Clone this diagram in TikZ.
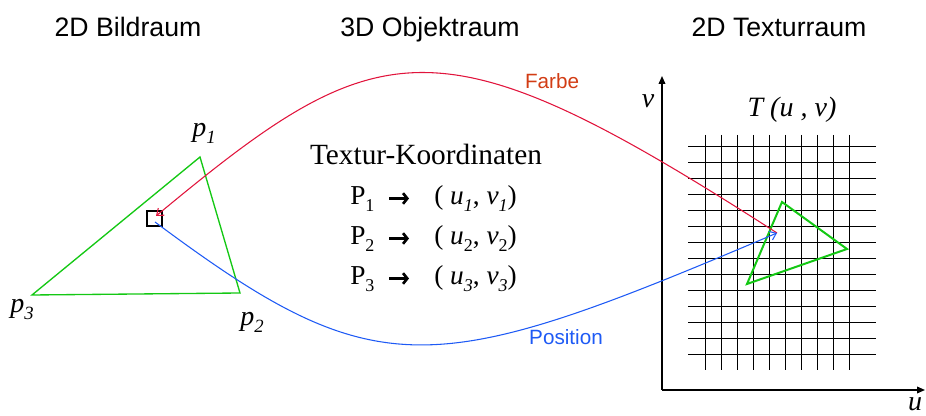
\documentclass[tikz,border=0pt]{standalone}
\usepackage{fontspec}
\setmainfont{Liberation Serif}
\setsansfont{Liberation Sans}
\usetikzlibrary{arrows.meta}
\definecolor{trigreen}{RGB}{20,200,20}
\definecolor{curvered}{RGB}{225,20,60}
\definecolor{labelred}{RGB}{210,60,20}
\definecolor{curveblue}{RGB}{30,90,245}
\newcommand\lsub[2]{\raisebox{-0.25em}{\fontsize{#1}{#1}\selectfont #2}}
\begin{document}
\begin{tikzpicture}[x=0.75pt,y=-0.75pt,
  header/.style={font=\sffamily\fontsize{20}{24}\selectfont, anchor=base},
  curvelabel/.style={font=\sffamily\fontsize{15.5}{18}\selectfont, anchor=base},
  plabel/.style={font=\fontsize{21}{25}\selectfont\itshape, anchor=base},
  midtext/.style={font=\fontsize{22}{26}\selectfont, anchor=base},
  rowtext/.style={font=\fontsize{20.5}{24}\selectfont, anchor=base west, inner sep=0pt},
  rowarrow/.style={line width=2pt, black, -{Straight Barb[length=3.2pt,width=8pt,line width=2pt]}},
  gridline/.style={line width=1.1pt, black},
  axis/.style={line width=1.1pt, black, -{Triangle[length=6pt,width=5pt]}},
  tri/.style={draw=trigreen, line width=1pt, line join=miter},
  tritex/.style={draw=trigreen, line width=1.5pt, line join=miter},
  curve/.style={line width=0.8pt, -{Straight Barb[length=4.5pt,width=7pt]}}
]
\useasboundingbox (0,0) rectangle (926,416);

% headers
\node[header] (h1) at (128,37) {2D Bildraum};
\node[header] (h2) at (430,37) {3D Objektraum};
\node[header] (h3) at (779,37) {2D Texturraum};

% left triangle
\coordinate (a1) at (200,157);
\coordinate (a2) at (240,293);
\coordinate (a3) at (32,295);
\draw[tri] (a1) -- (a2) -- (a3) -- cycle;
\node[plabel] (lp1) at (204,137) {p\lsub{14}{1}};
\node[plabel] (lp2) at (252,326) {p\lsub{14}{2}};
\node[plabel] (lp3) at (22,313) {p\lsub{14}{3}};

% pixel square
\node[draw=black, line width=1.2pt, minimum size=15*0.75pt, inner sep=0pt] (sq) at (154.5,218.5) {};
\coordinate (sqin) at (156,216);
\coordinate (sqout) at (155,222);

% texture axes
\coordinate (o) at (662,390);
\coordinate (vtop) at (662,76);
\coordinate (uend) at (925,390);
\draw[axis] (o) -- (vtop);
\draw[axis] (o) -- (uend);
\node[plabel] (lv) at (648,108) {v};
\node[plabel, inner sep=0pt] (lu) at (915,411) {u};
\node[plabel] (tuv) at (792,117) {T (u , v)};

% grid
\foreach \k in {0,...,13}{
  \draw[gridline] (688,146.7+16*\k) -- (876,146.7+16*\k);
}
\foreach \k in {0,...,9}{
  \draw[gridline] (705.7+16*\k,135) -- (705.7+16*\k,370);
}

% texture triangle
\coordinate (b1) at (782,202);
\coordinate (b2) at (847,249);
\coordinate (b3) at (747,284);
\draw[tritex] (b1) -- (b2) -- (b3) -- cycle;
\coordinate (tex) at (777,233);

% curves
\draw[curve, curvered] (tex) .. controls (437,14) and (380,30) .. (sqin);
\draw[curve, curveblue] (sqout) .. controls (378,388) and (431,380) .. (tex);
\node[curvelabel, text=labelred] (farbe) at (552,89) {Farbe};
\node[curvelabel, text=curveblue] (pos) at (566,345) {Position};

% middle text
\node[midtext] (tk) at (426,165) {Textur-Koordinaten};
\node[rowtext] (r1p) at (350,205) {P\lsub{13.5}{1}};
\coordinate (r1s) at (389,198.5);
\coordinate (r1e) at (409,198.5);
\draw[rowarrow] (r1s) -- (r1e);
\node[rowtext] (r1t) at (434,205) {( \textit{u}\lsub{13.5}{\textit{1}}, \textit{v}\lsub{13.5}{\textit{1}})};
\node[rowtext] (r2p) at (350,245) {P\lsub{13.5}{2}};
\coordinate (r2s) at (389,238.5);
\coordinate (r2e) at (409,238.5);
\draw[rowarrow] (r2s) -- (r2e);
\node[rowtext] (r2t) at (434,245) {( \textit{u}\lsub{13.5}{2}, \textit{v}\lsub{13.5}{2})};
\node[rowtext] (r3p) at (350,285) {P\lsub{13.5}{3}};
\coordinate (r3s) at (389,278.5);
\coordinate (r3e) at (409,278.5);
\draw[rowarrow] (r3s) -- (r3e);
\node[rowtext] (r3t) at (434,285) {( \textit{u}\lsub{13.5}{\textit{3}}, \textit{v}\lsub{13.5}{\textit{3}})};
\end{tikzpicture}
\end{document}
